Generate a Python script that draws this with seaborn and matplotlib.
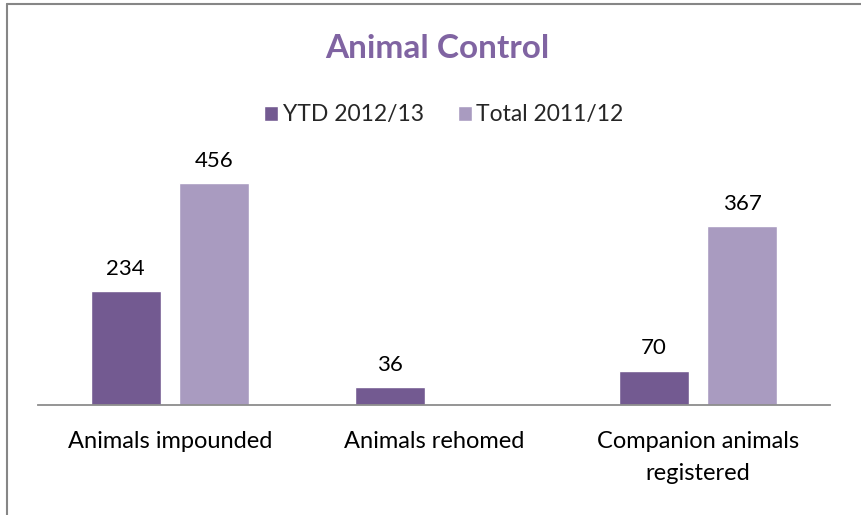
import matplotlib
matplotlib.use("Agg")
import matplotlib.pyplot as plt
from matplotlib.lines import Line2D
import pandas as pd
import seaborn as sns

categories = ["Animals impounded", "Animals rehomed", "Companion animals\nregistered"]
series_names = ["YTD 2012/13", "Total 2011/12"]
ytd_values = [234, 36, 70]
total_values = [456, None, 367]  # no prior-year figure for rehomed animals
colors = ["#735A91", "#A99BC0"]
title_text = "Animal Control"

rows = []
for cat, y, t in zip(categories, ytd_values, total_values):
    if y is not None:
        rows.append({"category": cat, "series": series_names[0], "value": y})
    if t is not None:
        rows.append({"category": cat, "series": series_names[1], "value": t})
df = pd.DataFrame(rows)

sns.set_theme(style="white")
plt.rcParams["font.family"] = ["Lato", "DejaVu Sans"]

fig = plt.figure(figsize=(8.61, 5.15), dpi=100)
ax = fig.add_axes([38 / 861, 110 / 515, 792 / 861, 243.4 / 515])

sns.barplot(data=df, x="category", y="value", hue="series",
            order=categories, hue_order=series_names,
            palette=colors, width=0.67, gap=0.21, saturation=1,
            errorbar=None, ax=ax, legend=True)

for cont in ax.containers:
    ax.bar_label(cont, fmt="%d", padding=9, fontsize=16, color="#000000")

ax.set_xlim(-0.5, 2.5)
ax.set_ylim(0, 500)
ax.set_xlabel("")
ax.set_ylabel("")
ax.set_yticks([])
ax.tick_params(axis="x", length=0, pad=19, labelsize=17, colors="#000000")
for lbl in ax.get_xticklabels():
    lbl.set_linespacing(1.65)
for side in ["top", "right", "left"]:
    ax.spines[side].set_visible(False)
ax.spines["bottom"].set_color("#8C8C8C")
ax.spines["bottom"].set_linewidth(1.3)

handles, labels = ax.get_legend_handles_labels()
ax.get_legend().remove()
fig.legend(handles, labels, loc="center", bbox_to_anchor=(444 / 861, 1 - 115 / 515),
           ncol=2, frameon=False, fontsize=16.5, handlelength=0.6, handleheight=0.6,
           handletextpad=0.2, columnspacing=1.5)

fig.text(437 / 861, 1 - 48 / 515, title_text, ha="center", va="center",
         fontsize=24, fontweight="bold", color="#8064A2")

# chart frame (top and left edges visible)
fig.add_artist(Line2D([7 / 861, 7 / 861], [0, 1 - 4 / 515], transform=fig.transFigure,
                      color="#868686", linewidth=1.5))
fig.add_artist(Line2D([7 / 861, 1], [1 - 4 / 515, 1 - 4 / 515], transform=fig.transFigure,
                      color="#868686", linewidth=1.5))

fig.savefig("out.png", dpi=100)
